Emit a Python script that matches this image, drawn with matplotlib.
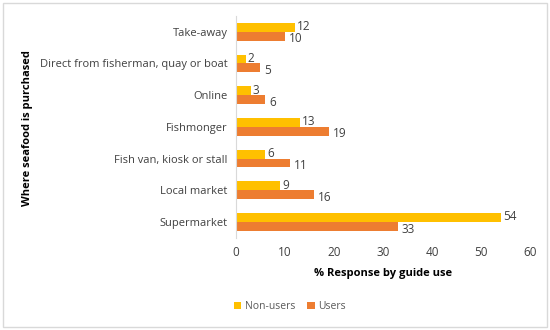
import matplotlib
matplotlib.use("Agg")
import matplotlib.pyplot as plt
import numpy as np

categories = ["Supermarket", "Local market", "Fish van, kiosk or stall", "Fishmonger",
              "Online", "Direct from fisherman, quay or boat", "Take-away"]
non_users = [54, 9, 6, 13, 3, 2, 12]
users = [33, 16, 11, 19, 6, 5, 10]
xticks = [0, 10, 20, 30, 40, 50, 60]

plt.rcParams['font.family'] = ['Open Sans', 'DejaVu Sans']

fig = plt.figure(figsize=(5.5, 3.3), dpi=100)
ax = fig.add_axes([0.429, 0.279, 0.535, 0.673])

y = np.arange(len(categories))
h = 0.28
c_non = '#FFC000'
c_us = '#ED7D31'
ax.barh(y + h/2, non_users, height=h, color=c_non, label='Non-users')
ax.barh(y - h/2, users, height=h, color=c_us, label='Users')

for yi, v in zip(y, non_users):
    ax.text(v + 0.4, yi + h/2 + 0.02, str(v), va='center', ha='left', fontsize=8.5, color='#404040')
for yi, v in zip(y, users):
    ax.text(v + 0.8, yi - h/2 - 0.08, str(v), va='center', ha='left', fontsize=8.5, color='#404040')

ax.set_xlim(0, 60)
ax.set_ylim(-0.5, 6.5)
ax.set_xticks(xticks)
ax.set_xticklabels([str(t) for t in xticks], fontsize=8.5, color='#404040')
ax.set_yticks(y)
ax.set_yticklabels(categories, fontsize=8, color='#404040')
ax.tick_params(axis='both', length=0, pad=6)
for s in ['top', 'right', 'bottom']:
    ax.spines[s].set_visible(False)
ax.spines['left'].set_color('#D9D9D9')

ax.set_xlabel('% Response by guide use', fontsize=8, fontweight='bold', color='black', labelpad=6)
fig.text(0.05, 0.612, 'Where seafood is purchased', rotation=90, fontsize=8,
         fontweight='bold', ha='center', va='center')

leg = fig.legend(loc='center', bbox_to_anchor=(0.527, 0.07), ncol=2, frameon=False,
                 fontsize=7.5, handlelength=0.7, handleheight=0.7, columnspacing=1.2,
                 handletextpad=0.3, labelcolor='#595959')

fig.patches.append(matplotlib.patches.Rectangle((0.005, 0.01), 0.99, 0.98, transform=fig.transFigure,
                                                 fill=False, edgecolor='#D9D9D9', linewidth=1))
fig.savefig('out.png', dpi=100)
